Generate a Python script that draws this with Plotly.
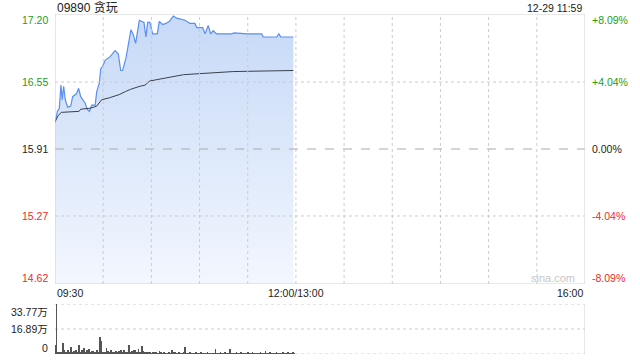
import plotly.graph_objects as go

# ---------------- data ----------------
prev_close = 15.91
y_ticks = [17.20, 16.55, 15.91, 15.27, 14.62]
y_tick_labels = ["17.20", "16.55", "15.91", "15.27", "14.62"]
pct_labels = ["+8.09%", "+4.04%", "0.00%", "-4.04%", "-8.09%"]
label_colors = ["#1a9e1a", "#1a9e1a", "#222222", "#ee2a2a", "#ee2a2a"]

# minutes after 09:30 (trading-time axis, 0..330)
price_min = [0, 1.5, 2.7, 3.7, 4.5, 5.4, 6.4, 7.9, 9.8, 11, 13.5, 14.7, 16, 18.7, 20, 21.4,
             22.9, 25, 26, 27.6, 28.5, 29.7, 31.3, 34.2, 37.4, 39.4, 40.9, 42.1, 44.2, 45.6,
             47.3, 48.8, 50.2, 52.5, 53.9, 55.4, 56.6, 57.7, 59.1, 60.8, 63.7, 64.9, 67,
             69.1, 71.2, 73.7, 75.8, 78.9, 81, 84, 87.1, 88.3, 92, 93.4, 95.4, 96.9, 98.5,
             100.6, 110, 111.5, 120, 128.7, 129.7, 138.0, 139.4, 140.6, 148.4]
price_val = [16.16, 16.27, 16.30, 16.52, 16.38, 16.51, 16.38, 16.31, 16.32, 16.41, 16.44, 16.49,
             16.41, 16.35, 16.29, 16.27, 16.33, 16.33, 16.46, 16.54, 16.68, 16.70, 16.76, 16.79,
             16.85, 16.82, 16.66, 16.66, 16.78, 16.92, 17.05, 17.00, 16.92, 17.14, 17.13, 17.12,
             16.98, 17.12, 17.12, 17.01, 17.01, 17.13, 17.10, 17.11, 17.13, 17.18, 17.16, 17.15,
             17.14, 17.11, 17.11, 17.07, 17.07, 17.01, 17.09, 17.01, 17.04, 17.01, 17.01, 17.02,
             17.01, 17.01, 16.98, 16.98, 17.01, 16.98, 16.98]

avg_min = [0, 2, 4, 15, 16, 22, 26, 29, 34, 40, 44, 47, 53, 56, 59, 66, 72, 80, 90, 111, 148.4]
avg_val = [16.17, 16.23, 16.26, 16.27, 16.29, 16.30, 16.32, 16.38, 16.40, 16.43, 16.46, 16.48,
           16.51, 16.52, 16.56, 16.58, 16.60, 16.62, 16.63, 16.65, 16.66]

# volume per minute, in 万
volume = [6.0, 33.77, 1.2, 0.8, 1.5, 7.4, 2.9, 0.9, 2.5, 1.0,
          4.7, 0.8, 1.8, 2.9, 1.1, 6.3, 0.9, 2.5, 4.0, 1.2,
          2.9, 3.4, 0.9, 2.3, 1.8, 1.0, 2.5, 1.3, 11.2, 8.6,
          1.5, 1.0, 4.0, 1.8, 0.9, 2.5, 1.1, 0.8, 2.3, 1.0,
          1.8, 2.5, 0.9, 2.5, 1.2, 1.6, 6.3, 0.9, 2.3, 2.5,
          2.9, 1.0, 3.4, 1.2, 5.2, 1.8, 0.8, 1.4, 0.7, 1.6,
          0.6, 1.4, 0.8, 1.1, 0.6, 2.3, 0.7, 0.5, 1.4, 0.6,
          0.5, 1.1, 0.6, 2.5, 0.7, 1.1, 0.5, 0.9, 0.6, 0.5,
          0.7, 4.5, 0.6, 0.5, 0.9, 0.4, 0.6, 0.5, 0.7, 0.4,
          0.5, 1.1, 0.4, 0.6, 0.5, 0.7, 0.4, 0.5, 0.6, 0.4,
          3.4, 0.5, 0.4, 0.9, 0.5, 0.4, 0.9, 0.5, 0.4, 3.2,
          0.5, 0.4, 0.6, 0.9, 0.4, 0.5, 0.7, 0.4, 0.5, 0.4,
          0.7, 0.4, 0.5, 0.9, 0.4, 0.5, 0.4, 0.6, 0.7, 0.4,
          0.5, 1.8, 0.4, 0.5, 0.7, 0.4, 0.5, 0.4, 0.7, 0.5,
          0.4, 0.5, 0.7, 0.4, 0.5, 0.7, 0.4, 0.5, 0.7, 0.5]
vol_min = list(range(len(volume)))
vol_ticks = [33.77, 16.89, 0]
vol_tick_labels = ["33.77万", "16.89万", "0"]

time_ticks = [0, 150, 330]
time_labels = ["09:30", "12:00/13:00", "16:00"]
grid_minutes = list(range(30, 330, 30))

title_text = "09890 贪玩"
stamp_text = "12-29 11:59"

# ---------------- layout ----------------
W, H = 640, 360
X0, X1 = 55, 585
MAIN_TOP, MAIN_BOT = 14, 284
VOL_TOP, VOL_BOT = 304, 354
FONT = "Liberation Sans, Arial, Noto Sans CJK SC, sans-serif"
GRID = "#cccccc"

fig = go.Figure()

fig.add_trace(go.Scatter(
    x=price_min, y=price_val, mode="lines",
    line=dict(color="#5a8ff0", width=1.2),
    fill="tozeroy",
    fillgradient=dict(type="vertical", start=14.62, stop=17.20,
                      colorscale=[[0, "rgba(243,247,254,1)"], [1, "rgba(198,217,247,1)"]]),
    xaxis="x", yaxis="y", hoverinfo="skip", showlegend=False))

fig.add_trace(go.Scatter(
    x=avg_min, y=avg_val, mode="lines",
    line=dict(color="#39414d", width=1),
    xaxis="x", yaxis="y", hoverinfo="skip", showlegend=False))

fig.add_trace(go.Bar(
    x=vol_min, y=volume, width=0.45, marker=dict(color="#555555", line=dict(width=0)),
    xaxis="x2", yaxis="y2", hoverinfo="skip", showlegend=False))

xdom = [X0 / W, X1 / W]
fig.update_layout(
    width=W, height=H, margin=dict(l=0, r=0, t=0, b=0),
    paper_bgcolor="white", plot_bgcolor="white",
    font=dict(family=FONT, size=11, color="#222"),
    xaxis=dict(domain=xdom, range=[0, 330], showgrid=False, zeroline=False,
               showticklabels=False, ticks="", showline=False, anchor="y"),
    yaxis=dict(domain=[1 - MAIN_BOT / H, 1 - MAIN_TOP / H], range=[14.62, 17.20],
               showgrid=False, zeroline=False, showticklabels=False, ticks="",
               showline=False, anchor="x"),
    xaxis2=dict(domain=xdom, range=[0, 330], showgrid=False, zeroline=False,
                showticklabels=False, ticks="", showline=False, anchor="y2"),
    yaxis2=dict(domain=[1 - VOL_BOT / H, 1 - VOL_TOP / H], range=[0, 33.77],
                showgrid=False, zeroline=False, showticklabels=False, ticks="",
                showline=False, anchor="x2"),
    bargap=0,
)

shapes = []
# vertical dotted grid lines (main)
for m in grid_minutes:
    shapes.append(dict(type="line", xref="x", yref="y", x0=m, x1=m, y0=14.62, y1=17.20,
                       line=dict(color=GRID, width=1, dash="dot"), layer="above"))
# horizontal grid lines main
for v in [16.55, 15.27]:
    shapes.append(dict(type="line", xref="x", yref="y", x0=0, x1=330, y0=v, y1=v,
                       line=dict(color=GRID, width=1, dash="dot"), layer="above"))
shapes.append(dict(type="line", xref="x", yref="y", x0=0, x1=330, y0=prev_close, y1=prev_close,
                   line=dict(color="#aaaaaa", width=1, dash="dash"), layer="above"))
# main frame
shapes.append(dict(type="rect", xref="x", yref="y", x0=0, x1=330, y0=14.62, y1=17.20,
                   line=dict(color="#d0d0d0", width=1), layer="above"))
# volume grid
for v in vol_ticks:
    shapes.append(dict(type="line", xref="x2", yref="y2", x0=0, x1=330, y0=v, y1=v,
                       line=dict(color=GRID, width=1, dash="dot"), layer="below"))
shapes.append(dict(type="line", xref="x2", yref="y2", x0=330, x1=330, y0=0, y1=33.77,
                   line=dict(color="#d0d0d0", width=1), layer="above"))
fig.update_layout(shapes=shapes)

ann = []
fs = 10.5
for i, (v, t) in enumerate(zip(y_ticks, y_tick_labels)):
    shift = -6 if i == 0 else (6 if i == len(y_ticks) - 1 else 0)
    ann.append(dict(xref="paper", yref="y", x=50 / W, y=v, text=t, xanchor="right",
                    yanchor="middle", yshift=shift, showarrow=False,
                    font=dict(size=fs, color=label_colors[i])))
    ann.append(dict(xref="paper", yref="y", x=590 / W, y=v, text=pct_labels[i], xanchor="left",
                    yanchor="middle", yshift=shift, showarrow=False,
                    font=dict(size=fs, color=label_colors[i])))
for i, (v, t) in enumerate(zip(vol_ticks, vol_tick_labels)):
    shift = -8 if i == 0 else (6 if v == 0 else 0)
    ann.append(dict(xref="paper", yref="y2", x=50 / W, y=v, text=t, xanchor="right",
                    yanchor="middle", yshift=shift, showarrow=False,
                    font=dict(size=fs, color="#222")))
anchors = ["left", "center", "right"]
for m, t, a in zip(time_ticks, time_labels, anchors):
    ann.append(dict(xref="x", yref="paper", x=m, y=1 - 293 / H, text=t, xanchor=a,
                    yanchor="middle", showarrow=False, font=dict(size=fs, color="#222")))
ann.append(dict(xref="paper", yref="paper", x=X0 / W, y=1 - 7.5 / H, text=title_text,
                xanchor="left", yanchor="middle", showarrow=False,
                font=dict(size=12, color="#222")))
ann.append(dict(xref="paper", yref="paper", x=584 / W, y=1 - 7.5 / H, text=stamp_text,
                xanchor="right", yanchor="middle", showarrow=False,
                font=dict(size=fs, color="#222")))
ann.append(dict(xref="paper", yref="paper", x=553 / W, y=1 - 278 / H, text="sina.com",
                xanchor="center", yanchor="middle", showarrow=False,
                font=dict(size=11, color="#c8c8c8")))
fig.update_layout(annotations=ann)

fig.write_html("out.html")
